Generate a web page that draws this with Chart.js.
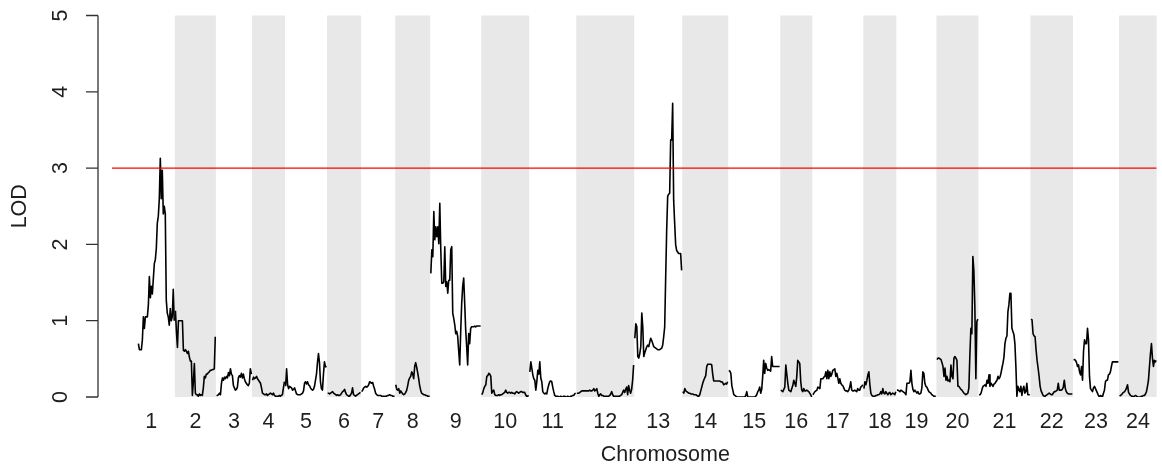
<!DOCTYPE html>
<html>
<head>
<meta charset="utf-8">
<script src="https://cdn.jsdelivr.net/npm/chart.js@4.4.1/dist/chart.umd.min.js"></script>
<style>
  html, body { margin: 0; padding: 0; background: #fff; }
  #wrap { width: 1162px; height: 467px; }
</style>
</head>
<body>
<div id="wrap"><canvas id="lodChart" width="1162" height="467"></canvas></div>
<script>
// genome scan: LOD score along the 24 chromosomes
const chromosomes = ['1','2','3','4','5','6','7','8','9','10','11','12',
                     '13','14','15','16','17','18','19','20','21','22','23','24'];
const chrLength = [92, 80, 70, 64, 82, 66, 66, 68, 100, 94, 92, 114,
                   94, 90, 102, 62, 100, 64, 78, 82, 102, 83, 90, 74]; // cM
const chrGap = 2.4;
const lodThreshold = 3;
const yTicks = [0, 1, 2, 3, 4, 5];

// LOD values, evenly spaced along each chromosome
const lod1 = [null, null, null, null, null, null, null, null, null, null,
  0.70, 0.62, 0.62, 0.62, 0.75, 1.05, 0.90, 1.05, 1.05, 1.05, 1.20, 1.58, 1.30, 1.45, 1.35,
  1.55, 1.75, 1.80, 1.95, 2.28, 2.37, 2.60, 3.13, 2.60, 2.97, 2.40, 2.50, 2.40, 1.27, 1.10,
  1.05, 0.94, 1.16, 1.00, 1.05, 1.41, 1.00];
const lod2 = [1.13, 0.85, 0.65, 1.00, 1.00, 1.00, 1.00, 1.00, 0.61, 0.60, 0.62, 0.60, 0.57, 0.60,
  0.52, 0.47, 0.47, 0.02, 0.20, 0.44, 0.05, 0.03, 0.03, 0.01, 0.04, 0.02, 0.03, 0.02, 0.12,
  0.27, 0.25, 0.30, 0.30, 0.32, 0.33, 0.35, 0.35, 0.36, 0.36, 0.37, 0.79];
const lod3 = [0.02, 0.02, 0.03, 0.05, 0.03, 0.18, 0.25, 0.22, 0.26, 0.24, 0.27, 0.25, 0.32, 0.28,
  0.37, 0.30, 0.28, 0.15, 0.12, 0.09, 0.10, 0.13, 0.25, 0.28, 0.26, 0.31, 0.25, 0.30, 0.24,
  0.20, 0.18, 0.16, 0.15, 0.18, 0.37, 0.30];
const lod4 = [0.22, 0.26, 0.24, 0.25, 0.27, 0.24, 0.22, 0.20, 0.18, 0.12, 0.05, 0.04, 0.03, 0.03,
  0.04, 0.02, 0.03, 0.04, 0.05, 0.04, 0.03, 0.05, 0.02, 0.01, 0.01, 0.01, 0.01, 0.02, 0.01,
  0.02, 0.03, 0.12, 0.20];
const lod5 = [0.14, 0.37, 0.16, 0.11, 0.14, 0.13, 0.12, 0.09, 0.10, 0.12, 0.08, 0.04, 0.03, 0.03,
  0.03, 0.03, 0.04, 0.05, 0.08, 0.18, 0.20, 0.17, 0.20, 0.16, 0.15, 0.12, 0.10, 0.09, 0.10,
  0.14, 0.22, 0.30, 0.45, 0.57, 0.45, 0.20, 0.11, 0.09, 0.30, 0.46, 0.40, 0.39];
const lod6 = [0.05, 0.05, 0.04, 0.05, 0.06, 0.07, 0.05, 0.04, 0.03, 0.02, 0.03, 0.02, 0.02, 0.03,
  0.05, 0.07, 0.08, 0.10, 0.06, 0.03, 0.02, 0.01, 0.01, 0.03, 0.05, 0.12, 0.03, 0.02, 0.01,
  0.02, 0.03, 0.04, 0.05, 0.06];
const lod7 = [0.07, 0.09, 0.12, 0.13, 0.14, 0.13, 0.14, 0.16, 0.20, 0.19, 0.18, 0.19, 0.14, 0.10,
  0.05, 0.03, 0.02, 0.02, 0.02, 0.02, 0.01, 0.01, 0.01, 0.01, 0.01, 0.01, 0.02, 0.02, 0.03,
  0.02, 0.02, 0.01, 0.01, 0.01];
const lod8 = [0.16, 0.10, 0.09, 0.11, 0.05, 0.08, 0.06, 0.04, 0.03, 0.04, 0.06, 0.09, 0.15, 0.22,
  0.25, 0.27, 0.33, 0.30, 0.24, 0.40, 0.45, 0.39, 0.32, 0.24, 0.15, 0.09, 0.05, 0.04, 0.03,
  0.03, 0.02, 0.02, 0.01, 0.01, 0.01];
const lod9 = [1.62, 1.93, 1.84, 2.43, 2.06, 2.23, 2.10, 2.23, 2.01, 2.54, 1.93, 1.49, 1.49, 1.51,
  1.97, 1.45, 1.51, 1.36, 1.53, 1.53, 1.93, 1.97, 1.10, 1.03, 0.95, 0.83, 0.86, 0.79, 0.60,
  0.42, 0.86, 1.23, 1.45, 1.56, 1.23, 0.88, 0.66, 0.42, 0.83, 0.70, 0.90, 0.92, 0.92, 0.92,
  0.93, 0.92, 0.93, 0.93, 0.93, 0.93, 0.93];
const lod10 = [0.03, 0.06, 0.11, 0.14, 0.16, 0.27, 0.28, 0.31, 0.30, 0.27, 0.05, 0.08, 0.09, 0.03,
  0.02, 0.02, 0.02, 0.03, 0.02, 0.03, 0.03, 0.04, 0.05, 0.06, 0.09, 0.06, 0.05, 0.06, 0.06,
  0.05, 0.06, 0.05, 0.05, 0.04, 0.06, 0.07, 0.06, 0.05, 0.06, 0.07, 0.07, 0.06, 0.06, 0.06,
  0.03, 0.01, 0.01, 0.02];
const lod11 = [0.33, 0.46, 0.38, 0.29, 0.24, 0.22, 0.09, 0.20, 0.35, 0.30, 0.46, 0.25, 0.20, 0.07,
  0.05, 0.04, 0.05, 0.04, 0.11, 0.16, 0.20, 0.21, 0.20, 0.13, 0.07, 0.02, 0.01, 0.01, 0.01,
  0.00, 0.00, 0.01, 0.00, 0.00, 0.01, 0.01, 0.00, 0.00, 0.01, 0.00, 0.00, 0.01, 0.01, 0.02,
  0.02, 0.04, 0.05];
const lod12 = [0.05, 0.05, 0.05, 0.06, 0.07, 0.08, 0.08, 0.08, 0.08, 0.08, 0.08, 0.08, 0.08, 0.09,
  0.08, 0.08, 0.09, 0.11, 0.08, 0.09, 0.11, 0.05, 0.01, 0.03, 0.04, 0.02, 0.02, 0.01, 0.01,
  0.01, 0.01, 0.01, 0.01, 0.02, 0.04, 0.07, 0.03, 0.01, 0.01, 0.01, 0.01, 0.01, 0.01, 0.01,
  0.02, 0.03, 0.06, 0.09, 0.06, 0.10, 0.13, 0.03, 0.15, 0.09, 0.05, 0.10, 0.22, 0.42];
const lod13 = [0.77, 0.96, 0.92, 0.53, 0.51, 0.57, 0.66, 1.10, 0.92, 0.53, 0.58, 0.62, 0.66, 0.68,
  0.66, 0.72, 0.77, 0.74, 0.70, 0.66, 0.65, 0.64, 0.63, 0.62, 0.62, 0.62, 0.63, 0.64, 0.68,
  0.79, 0.92, 1.58, 2.19, 2.63, 2.66, 2.67, 3.37, 3.37, 3.85, 2.58, 2.28, 2.00, 1.92, 1.90,
  1.88, 1.88, 1.88, 1.66];
const lod14 = [0.07, 0.05, 0.11, 0.08, 0.07, 0.06, 0.05, 0.05, 0.04, 0.04, 0.04, 0.03, 0.03, 0.03,
  0.02, 0.01, 0.01, 0.03, 0.08, 0.13, 0.18, 0.22, 0.25, 0.28, 0.40, 0.43, 0.43, 0.43, 0.43,
  0.42, 0.30, 0.21, 0.21, 0.21, 0.21, 0.21, 0.21, 0.21, 0.20, 0.20, 0.19, 0.16, 0.17, 0.18,
  0.17, 0.20];
const lod15 = [0.35, 0.34, 0.31, 0.15, 0.09, 0.03, 0.02, 0.01, 0.00, 0.00, 0.00, 0.00, 0.00, 0.00,
  0.00, 0.00, 0.00, 0.02, 0.07, 0.00, 0.00, 0.00, 0.00, 0.00, 0.00, 0.00, 0.00, 0.01, 0.03,
  0.07, 0.09, 0.13, 0.05, 0.10, 0.27, 0.48, 0.31, 0.44, 0.38, 0.35, 0.36, 0.35, 0.34, 0.53,
  0.40, 0.40, 0.40, 0.40, 0.40, 0.40, 0.40, 0.40];
const lod16 = [0.09, 0.08, 0.07, 0.10, 0.13, 0.42, 0.30, 0.18, 0.09, 0.08, 0.07, 0.11, 0.15, 0.22,
  0.18, 0.14, 0.27, 0.48, 0.46, 0.44, 0.20, 0.09, 0.07, 0.11, 0.08, 0.08, 0.09, 0.08, 0.07,
  0.05, 0.03, 0.00];
const lod17 = [0.03, 0.05, 0.07, 0.08, 0.09, 0.13, 0.12, 0.11, 0.24, 0.24, 0.24, 0.26, 0.27, 0.33,
  0.24, 0.35, 0.24, 0.33, 0.27, 0.30, 0.35, 0.36, 0.37, 0.27, 0.31, 0.25, 0.18, 0.24, 0.18,
  0.16, 0.15, 0.12, 0.09, 0.08, 0.08, 0.07, 0.09, 0.13, 0.20, 0.09, 0.08, 0.08, 0.09, 0.08,
  0.07, 0.11, 0.09, 0.09, 0.13, 0.14, 0.16];
const lod18 = [0.11, 0.20, 0.16, 0.22, 0.29, 0.33, 0.16, 0.05, 0.02, 0.01, 0.01, 0.01, 0.02, 0.02,
  0.03, 0.03, 0.04, 0.07, 0.04, 0.11, 0.05, 0.04, 0.07, 0.05, 0.03, 0.05, 0.06, 0.03, 0.04,
  0.05, 0.04, 0.03, 0.07];
const lod19 = [0.09, 0.09, 0.08, 0.07, 0.09, 0.08, 0.07, 0.06, 0.05, 0.03, 0.18, 0.18, 0.18, 0.20,
  0.35, 0.18, 0.10, 0.07, 0.09, 0.07, 0.05, 0.07, 0.04, 0.04, 0.05, 0.12, 0.33, 0.31, 0.18,
  0.14, 0.13, 0.10, 0.07, 0.06, 0.05, 0.03, 0.02, 0.01, 0.01, 0.01];
const lod20 = [0.49, 0.51, 0.51, 0.51, 0.49, 0.45, 0.40, 0.27, 0.38, 0.22, 0.27, 0.21, 0.22, 0.20,
  0.42, 0.27, 0.24, 0.51, 0.53, 0.51, 0.48, 0.14, 0.14, 0.12, 0.10, 0.09, 0.07, 0.05, 0.04,
  0.03, 0.04, 0.05, 0.12, 0.55, 0.90, 0.83, 1.84, 1.66, 1.18, 0.24, 0.99, 1.02];
const lod21 = [0.03, 0.03, 0.05, 0.10, 0.14, 0.15, 0.16, 0.14, 0.22, 0.18, 0.29, 0.14, 0.18, 0.16,
  0.14, 0.17, 0.18, 0.20, 0.22, 0.27, 0.24, 0.26, 0.31, 0.38, 0.44, 0.52, 0.70, 0.77, 0.80,
  1.12, 1.21, 1.36, 1.36, 0.90, 0.86, 0.82, 0.70, 0.40, 0.01, 0.14, 0.10, 0.07, 0.14, 0.02,
  0.10, 0.14, 0.05, 0.07, 0.18, 0.03, 0.03, 0.03];
const lod22 = [1.02, 1.01, 0.83, 0.80, 0.79, 0.62, 0.48, 0.38, 0.27, 0.14, 0.08, 0.05, 0.02, 0.01,
  0.01, 0.02, 0.03, 0.04, 0.05, 0.04, 0.03, 0.03, 0.05, 0.07, 0.07, 0.08, 0.09, 0.18, 0.09,
  0.09, 0.09, 0.10, 0.13, 0.22, 0.11, 0.07, 0.05, 0.04, 0.04, 0.04, 0.04, 0.04];
const lod23 = [0.49, 0.49, 0.48, 0.45, 0.40, 0.42, 0.33, 0.29, 0.40, 0.22, 0.60, 0.75, 0.70, 0.70,
  0.90, 0.75, 0.27, 0.11, 0.09, 0.07, 0.12, 0.14, 0.11, 0.08, 0.05, 0.02, 0.00, 0.02, 0.01,
  0.00, 0.05, 0.09, 0.20, 0.22, 0.22, 0.29, 0.30, 0.33, 0.40, 0.46, 0.46, 0.46, 0.46, 0.46,
  0.46, 0.46];
const lod24 = [0.01, 0.02, 0.03, 0.05, 0.06, 0.07, 0.09, 0.12, 0.16, 0.06, 0.04, 0.02, 0.01, 0.01,
  0.00, 0.01, 0.02, 0.01, 0.00, 0.00, 0.00, 0.00, 0.01, 0.01, 0.02, 0.02, 0.04, 0.07, 0.14,
  0.22, 0.40, 0.57, 0.70, 0.51, 0.40, 0.48, 0.46, 0.48];

const lodByChr = [lod1, lod2, lod3, lod4, lod5, lod6, lod7, lod8, lod9, lod10, lod11, lod12,
                  lod13, lod14, lod15, lod16, lod17, lod18, lod19, lod20, lod21, lod22, lod23, lod24];

// chromosome start/end on the concatenated map
const chrStart = [];
const chrEnd = [];
let pos = 0;
chrLength.forEach(len => {
  chrStart.push(pos);
  chrEnd.push(pos + len);
  pos += len + chrGap;
});
const chrMid = chrStart.map((s, i) => (s + chrEnd[i]) / 2);
const xMin = -33;
const xMax = chrEnd[chrEnd.length - 1] + 0.5;

const FONT = '"Liberation Sans", Arial, Helvetica, sans-serif';
const FONT_SIZE = 21.5;
const INK = '#1e1e1e';

const lodDatasets = lodByChr.map((vals, i) => {
  const step = chrLength[i] / (vals.length - 1);
  return {
    label: 'chr' + chromosomes[i],
    data: vals.map((v, k) => ({ x: chrStart[i] + k * step, y: v })),
    borderColor: '#000',
    borderWidth: 1.6,
    borderJoinStyle: 'round',
    pointRadius: 0,
    tension: 0,
    spanGaps: false,
    order: 1
  };
});

const thresholdDataset = {
  label: 'threshold',
  data: [{ x: xMin, y: lodThreshold }, { x: xMax, y: lodThreshold }],
  borderColor: '#FF0000',
  borderWidth: 1.3,
  pointRadius: 0,
  order: 0
};

// grey shading behind even-numbered chromosomes
const chrBands = {
  id: 'chrBands',
  beforeDatasetsDraw(chart) {
    const { ctx, chartArea, scales: { x } } = chart;
    ctx.save();
    ctx.fillStyle = '#E8E8E8';
    chrStart.forEach((s, i) => {
      if (i % 2 === 0) return;
      const x0 = x.getPixelForValue(s - chrGap / 2);
      const x1 = Math.min(x.getPixelForValue(chrEnd[i] + chrGap / 2), chartArea.right);
      ctx.fillRect(x0, chartArea.top, x1 - x0, chartArea.bottom - chartArea.top);
    });
    ctx.restore();
  }
};

// R-style axes: detached y axis with outward ticks and labels parallel to it,
// plus the axis titles
const lodAxis = {
  id: 'lodAxis',
  afterDraw(chart) {
    const { ctx, chartArea, scales: { y } } = chart;
    const axisX = chartArea.left - 14;
    ctx.save();
    ctx.strokeStyle = '#333';
    ctx.lineWidth = 1.3;
    ctx.beginPath();
    ctx.moveTo(axisX, y.getPixelForValue(yTicks[0]));
    ctx.lineTo(axisX, y.getPixelForValue(yTicks[yTicks.length - 1]));
    yTicks.forEach(t => {
      const py = y.getPixelForValue(t);
      ctx.moveTo(axisX, py);
      ctx.lineTo(axisX - 12, py);
    });
    ctx.stroke();
    ctx.fillStyle = INK;
    ctx.font = FONT_SIZE + 'px ' + FONT;
    ctx.textAlign = 'center';
    ctx.textBaseline = 'middle';
    yTicks.forEach(t => {
      ctx.save();
      ctx.translate(axisX - 37, y.getPixelForValue(t));
      ctx.rotate(-Math.PI / 2);
      ctx.fillText(String(t), 0, 0);
      ctx.restore();
    });
    ctx.save();
    ctx.translate(20, (chartArea.top + chartArea.bottom) / 2);
    ctx.rotate(-Math.PI / 2);
    ctx.fillText('LOD', 0, 0);
    ctx.restore();
    // x title sits a little right of the centre of the map
    ctx.fillText('Chromosome', (chartArea.left + chartArea.right) / 2 + 31, chartArea.bottom + 58);
    ctx.restore();
  }
};

new Chart(document.getElementById('lodChart'), {
  type: 'line',
  data: { datasets: [thresholdDataset, ...lodDatasets] },
  options: {
    responsive: false,
    animation: false,
    layout: { padding: { top: 15.5, right: 2, left: 0, bottom: 0 } },
    plugins: { legend: { display: false }, tooltip: { enabled: false } },
    scales: {
      x: {
        type: 'linear',
        min: xMin,
        max: xMax,
        grid: { display: false, drawTicks: false },
        border: { display: false },
        afterBuildTicks: scale => { scale.ticks = chrMid.map(v => ({ value: v })); },
        afterFit: scale => { scale.height = 70; },
        ticks: {
          autoSkip: false,
          maxRotation: 0,
          minRotation: 0,
          padding: 12,
          color: INK,
          font: { family: FONT, size: FONT_SIZE },
          callback: (value, index) => chromosomes[index]
        }
      },
      y: {
        min: 0,
        max: 5,
        grid: { display: false },
        border: { display: false },
        ticks: { display: false },
        afterFit: scale => { scale.width = 112; }
      }
    }
  },
  plugins: [chrBands, lodAxis]
});
</script>
</body>
</html>
